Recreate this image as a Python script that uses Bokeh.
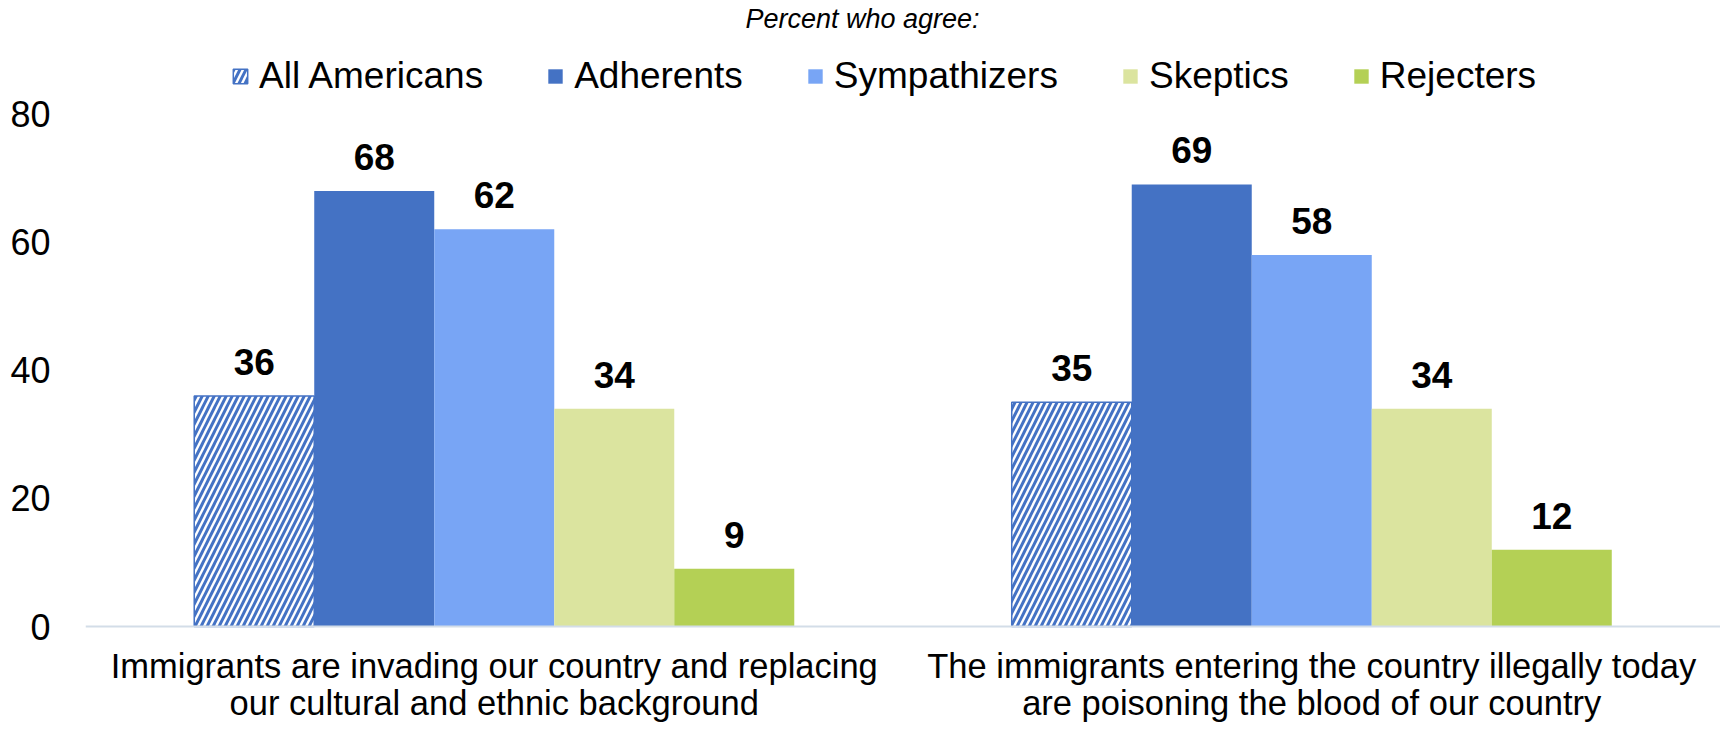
from bokeh.plotting import figure
from bokeh.models import (FactorRange, Range1d, Legend, LegendItem, Label,
                          ColumnDataSource, LabelSet, FixedTicker, Span)
from bokeh.core.properties import value
from bokeh.transform import dodge
from bokeh.embed import file_html
from bokeh.resources import INLINE

label_line1 = ["Immigrants are invading our country and replacing",
               "The immigrants entering the country illegally today"]
label_line2 = ["our cultural and ethnic background",
               "are poisoning the blood of our country"]
categories = [a + "\n" + b for a, b in zip(label_line1, label_line2)]
series = ["All Americans", "Adherents", "Sympathizers", "Skeptics", "Rejecters"]
all_americans = [36, 35]
adherents = [68, 69]
sympathizers = [62, 58]
skeptics = [34, 34]
rejecters = [9, 12]
y_ticks = [0, 20, 40, 60, 80]
title_text = "Percent who agree:"

data = [all_americans, adherents, sympathizers, skeptics, rejecters]
colors = ["#4472C4", "#4472C4", "#78A5F5", "#DBE49F", "#B4D055"]
FONT = "Liberation Sans"
BW = 0.1468

W, H = 1720, 722
LEFT = 85
ZERO_Y = 626          # pixel row of the zero line inside the figure
PX_PER_UNIT = 6.406   # pixels per percentage point

p = figure(width=W, height=H, x_range=FactorRange(*categories),
           y_range=Range1d(-(H - ZERO_Y) / PX_PER_UNIT, ZERO_Y / PX_PER_UNIT),
           output_backend="svg", toolbar_location=None, title=None,
           x_axis_location=None,
           min_border_left=LEFT, min_border_right=0,
           min_border_bottom=0, min_border_top=0)

p.add_layout(Span(location=0, dimension="width", line_color="#D3DDE8",
                  line_width=2))

items = []
for i, (name, vals) in enumerate(zip(series, data)):
    src = ColumnDataSource(dict(cat=categories, val=vals, lab=[str(v) for v in vals]))
    xs = dodge("cat", (i - 2) * BW, range=p.x_range)
    if i == 0:
        r = p.vbar(x=xs, top="val", width=BW, source=src, fill_color="white",
                   hatch_pattern="/", hatch_color=colors[i], hatch_scale=12,
                   hatch_weight=3.0, line_color=colors[i], line_width=1.5)
    else:
        r = p.vbar(x=xs, top="val", width=BW, source=src, fill_color=colors[i],
                   line_color=None)
    items.append(LegendItem(label=name, renderers=[r]))
    p.add_layout(LabelSet(x=xs, y="val", text="lab", source=src,
                          text_align="center", text_baseline="alphabetic",
                          y_offset=21, text_font_size=value("37px"),
                          text_font_style=value("bold"), text_font=value(FONT),
                          text_color=value("black")))

for lines, off in ((label_line1, -39), (label_line2, -76)):
    src = ColumnDataSource(dict(cat=categories, y=[0] * len(categories), t=lines))
    p.add_layout(LabelSet(x="cat", y="y", text="t", source=src,
                          text_align="center", text_baseline="middle",
                          y_offset=off, text_font_size=value("34.5px"),
                          text_font=value(FONT), text_color=value("black")))

p.yaxis.ticker = FixedTicker(ticks=y_ticks)
p.yaxis.axis_line_color = None
p.yaxis.major_tick_line_color = None
p.yaxis.minor_tick_line_color = None
p.yaxis.major_tick_out = 0
p.yaxis.major_tick_in = 0
p.yaxis.minor_tick_out = 0
p.yaxis.major_label_text_font_size = "36px"
p.yaxis.major_label_text_font = FONT
p.yaxis.major_label_text_color = "black"
p.yaxis.major_label_standoff = 35

p.xgrid.grid_line_color = None
p.ygrid.grid_line_color = None
p.outline_line_color = None

legend = Legend(items=items, orientation="horizontal", location=(146, 625),
                label_text_font_size="37px", label_text_font=FONT,
                label_text_color="black", glyph_width=18, glyph_height=18,
                label_standoff=10, spacing=63, padding=0, margin=0,
                border_line_color=None, background_fill_alpha=0)
p.add_layout(legend)
p.add_layout(Label(x=777, y=704, x_units="screen", y_units="screen",
                   text=title_text, text_align="center", text_baseline="middle",
                   text_font_size="27px", text_font_style="italic",
                   text_font=FONT, text_color="black"))

open("out.html", "w").write(file_html(p, INLINE))
